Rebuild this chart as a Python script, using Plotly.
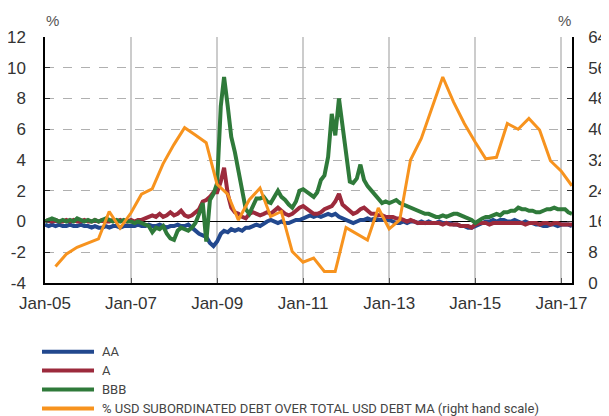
import pandas as pd
import plotly.graph_objects as go

# monthly spread series (left scale) and quarterly share (right scale)
months = pd.date_range("2005-01-01", "2017-04-01", freq="MS")
quarters = pd.date_range("2005-03-31", "2017-03-31", freq="QE")

aa = [
    -0.2, -0.3, -0.2, -0.3, -0.2, -0.3, -0.3, -0.2, -0.3, -0.3, -0.2, -0.3,
    -0.3, -0.4, -0.3, -0.4, -0.4, -0.3, -0.4, -0.3, -0.3, -0.4, -0.3, -0.3,
    -0.3, -0.3, -0.2, -0.3, -0.3, -0.2, -0.3, -0.3, -0.2, -0.3, -0.4, -0.3,
    -0.3, -0.2, -0.3, -0.3, -0.2, -0.4, -0.6, -0.8, -0.9, -1.0, -1.4, -1.6,
    -1.3, -0.8, -0.6, -0.7, -0.5, -0.6, -0.5, -0.6, -0.4, -0.4, -0.3, -0.2,
    -0.3, -0.1, 0.0, 0.1, 0.0, -0.1, 0.0, -0.1, -0.1, 0.0, 0.1, 0.1,
    0.2, 0.3, 0.4, 0.3, 0.4, 0.3, 0.4, 0.5, 0.4, 0.5, 0.3, 0.2,
    0.1, 0.0, -0.1, 0.0, 0.1, 0.1, 0.2, 0.1, 0.2, 0.1, 0.1, 0.1,
    0.1, 0.0, -0.1, -0.1, 0.0, -0.1, 0.0, 0.0, -0.1, 0.0, -0.1, 0.0,
    -0.1, -0.1, 0.0, -0.1, -0.1, -0.1, -0.2, -0.2, -0.3, -0.3, -0.4, -0.4,
    -0.3, -0.2, -0.1, 0.0, 0.0, 0.1, 0.0, 0.1, 0.1, 0.0, 0.0, 0.1,
    0.0, -0.1, 0.0, -0.1, -0.1, -0.2, -0.2, -0.3, -0.3, -0.2, -0.2, -0.3,
    -0.2, -0.2, -0.2, -0.3,
]

a = [
    0.0, 0.1, 0.0, 0.1, 0.0, 0.0, 0.1, 0.0, 0.1, 0.0, 0.0, 0.1,
    0.0, 0.0, 0.1, 0.0, 0.1, 0.0, 0.0, 0.1, 0.0, 0.1, 0.0, 0.0,
    0.1, 0.0, 0.1, 0.1, 0.2, 0.3, 0.4, 0.3, 0.5, 0.3, 0.4, 0.6,
    0.4, 0.5, 0.7, 0.4, 0.3, 0.4, 0.6, 0.8, 1.3, 1.4, 1.6, 1.9,
    1.9, 2.6, 3.5, 1.8, 0.9, 0.6, 0.5, 0.3, 0.2, 0.5, 0.6, 0.5,
    0.4, 0.5, 0.6, 0.5, 0.7, 0.9, 0.7, 0.5, 0.4, 0.5, 0.7, 0.9,
    1.0, 0.8, 0.7, 0.5, 0.5, 0.6, 0.8, 0.9, 1.0, 1.3, 1.8, 1.1,
    0.9, 0.7, 0.5, 0.6, 0.8, 0.9, 0.7, 0.5, 0.5, 0.4, 0.4, 0.3,
    0.3, 0.3, 0.2, 0.2, 0.1, 0.0, 0.1, 0.0, -0.1, -0.1, -0.1, -0.1,
    -0.1, -0.1, -0.1, -0.2, -0.1, -0.2, -0.2, -0.2, -0.3, -0.3, -0.3, -0.4,
    -0.2, -0.1, -0.1, -0.1, -0.2, -0.1, -0.1, -0.1, -0.1, -0.1, -0.1, -0.1,
    -0.1, -0.1, -0.2, -0.1, -0.1, -0.1, -0.2, -0.1, -0.1, -0.2, -0.1, -0.1,
    -0.2, -0.2, -0.2, -0.2,
]

bbb = [
    0.0, 0.1, 0.2, 0.1, 0.0, 0.1, 0.0, 0.1, 0.0, 0.2, 0.1, 0.0,
    0.1, 0.0, 0.1, 0.0, 0.1, 0.2, 0.1, 0.0, 0.1, 0.0, 0.1, 0.0,
    0.0, -0.1, 0.0, -0.1, -0.2, -0.3, -0.7, -0.4, -0.5, -0.3, -0.8, -1.1,
    -1.2, -0.6, -0.4, -0.5, -0.6, -0.4, -0.1, 0.5, 1.2, -1.3, 1.4, 1.8,
    2.5, 7.5, 9.4, 7.5, 5.5, 4.5, 3.3, 2.0, 0.8, 0.5, 1.0, 1.5,
    1.5, 1.6, 1.3, 1.2, 1.6, 2.0, 1.6, 1.4, 1.1, 0.9, 1.3, 2.0,
    2.1, 1.9, 1.8, 1.6, 1.9, 2.7, 3.0, 4.2, 7.0, 5.6, 8.0, 6.2,
    4.6, 2.6, 2.5, 2.8, 3.7, 2.7, 2.3, 2.0, 1.8, 1.5, 1.2, 1.3,
    1.2, 1.3, 1.4, 1.2, 1.1, 1.0, 0.9, 0.8, 0.7, 0.6, 0.5, 0.5,
    0.4, 0.3, 0.3, 0.4, 0.3, 0.4, 0.5, 0.5, 0.4, 0.3, 0.2, 0.1,
    -0.1, 0.1, 0.2, 0.3, 0.3, 0.4, 0.5, 0.4, 0.6, 0.6, 0.7, 0.7,
    0.9, 0.8, 0.8, 0.7, 0.7, 0.6, 0.6, 0.7, 0.8, 0.8, 0.9, 0.8,
    0.8, 0.8, 0.6, 0.5,
]

sub_debt = [
    4.3, 7.5, 9.3, 10.4,
    11.5, 18.6, 14.3, 18.2,
    23.1, 24.5, 31.0, 36.0,
    40.4, 38.5, 36.5, 25.7,
    23.1, 16.4, 21.6, 24.7,
    17.3, 18.6, 8.2, 5.4,
    6.5, 3.0, 3.0, 14.4,
    12.7, 11.2, 19.5, 14.1,
    16.4, 32.0, 37.6, 45.5,
    53.6, 47.1, 41.5, 36.7,
    32.3, 32.7, 41.5, 40.0,
    42.8, 39.8, 31.8, 29.1,
    25.3,
]

names = ["AA", "A", "BBB",
         "% USD SUBORDINATED DEBT OVER TOTAL USD DEBT MA (right hand scale)"]
colors = ["#22488e", "#9c2a3c", "#2f7a3a", "#f7931e"]

left_ticks = [-4, -2, 0, 2, 4, 6, 8, 10, 12]
right_ticks = [0, 8, 16, 24, 32, 40, 48, 56, 64]
x_ticks = pd.date_range("2005-01-01", "2017-01-01", freq="24MS")
x_labels = ["Jan-05", "Jan-07", "Jan-09", "Jan-11", "Jan-13", "Jan-15", "Jan-17"]

fig = go.Figure()
for vals, name, col in zip([aa, a, bbb], names[:3], colors[:3]):
    fig.add_trace(go.Scatter(x=months, y=vals, name=name, mode="lines",
                             line=dict(color=col, width=4), showlegend=False))
fig.add_trace(go.Scatter(x=quarters, y=sub_debt, name=names[3], mode="lines",
                         line=dict(color=colors[3], width=3), yaxis="y2",
                         showlegend=False))

tickfont = dict(family="Liberation Sans, Arial, sans-serif", size=17, color="#333")

# the page body adds an 8px margin, so the figure is 8px smaller than the window
fig.update_layout(
    width=601, height=408,
    margin=dict(l=37, r=37, t=29, b=133),
    paper_bgcolor="white", plot_bgcolor="white",
    xaxis=dict(type="date", range=["2005-01-01", "2017-04-01"],
               tickvals=x_ticks, ticktext=x_labels, tickfont=tickfont,
               ticks="inside", ticklen=5, tickcolor="#555",
               showgrid=True, gridcolor="#cccccc", gridwidth=2,
               showline=True, linecolor="black", linewidth=1.5,
               zeroline=False, ticklabelstandoff=4, automargin=False),
    yaxis=dict(range=[-4, 12], tickvals=left_ticks,
               ticktext=[str(v) for v in left_ticks], tickfont=tickfont,
               ticks="inside", ticklen=5, tickcolor="#333",
               showgrid=True, gridcolor="#b0b0b0", griddash="dash", gridwidth=1,
               zeroline=True, zerolinecolor="black", zerolinewidth=1.2,
               showline=True, linecolor="black", linewidth=1.5,
               ticklabelstandoff=14, automargin=False),
    yaxis2=dict(range=[0, 64], tickvals=right_ticks, overlaying="y", side="right",
                tickfont=tickfont, ticks="inside", ticklen=5, tickcolor="#333",
                showgrid=False, zeroline=False,
                showline=True, linecolor="black", linewidth=1.5,
                ticklabelstandoff=11, automargin=False),
)

# unit labels above the axes
pct_font = dict(family="Liberation Sans, Arial, sans-serif", size=15, color="#555")
fig.add_annotation(x=0.015, y=1.0, xref="paper", yref="paper", text="%",
                   showarrow=False, xanchor="center", yanchor="bottom", yshift=6,
                   font=pct_font)
fig.add_annotation(x=0.985, y=1.0, xref="paper", yref="paper", text="%",
                   showarrow=False, xanchor="center", yanchor="bottom", yshift=6,
                   font=pct_font)

# legend drawn below the plot
legend_font = dict(family="Roboto, Liberation Sans, sans-serif", size=13, color="#444")
for i, (name, col) in enumerate(zip(names, colors)):
    yy = -0.279 - i * 0.077
    fig.add_shape(type="line", xref="paper", yref="paper",
                  x0=-0.0057, x1=0.0930, y0=yy, y1=yy,
                  line=dict(color=col, width=4))
    fig.add_annotation(x=0.104, y=yy, xref="paper", yref="paper", text=name,
                       showarrow=False, xanchor="left", yanchor="middle",
                       font=legend_font)

fig.write_html("out.html")
